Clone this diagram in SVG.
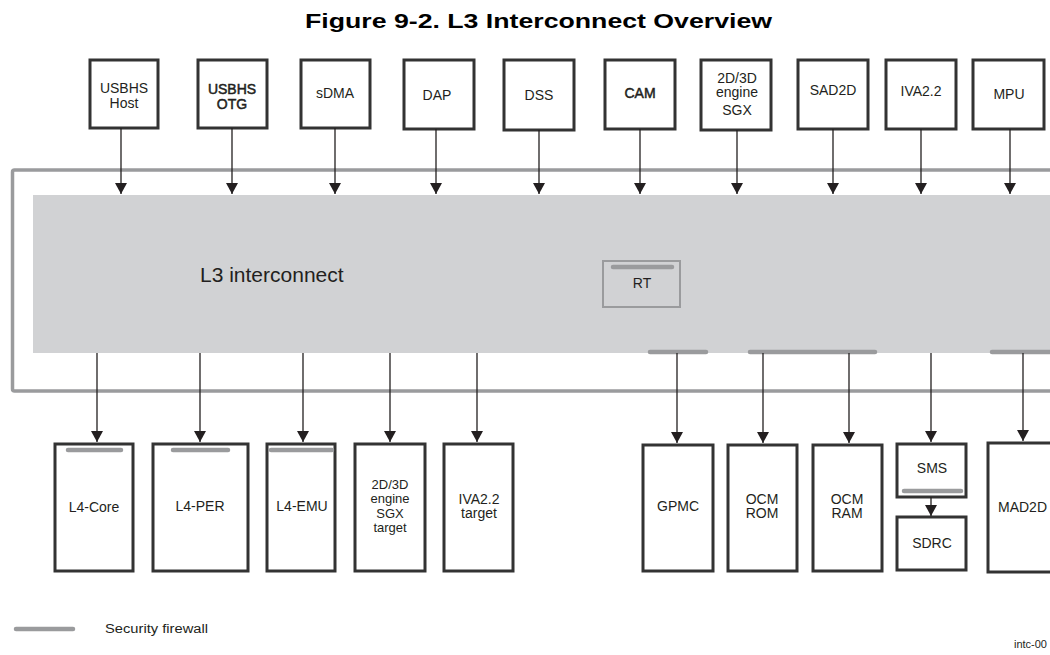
<svg xmlns="http://www.w3.org/2000/svg" width="1050" height="655" viewBox="0 0 1050 655">
<defs>
<marker id="ah" markerUnits="userSpaceOnUse" markerWidth="12" markerHeight="12" refX="11" refY="6" orient="auto">
<path d="M0,0 L11,6 L0,12 z" fill="#231f20"/>
</marker>
<style>
.box{fill:#fff;stroke:#333;stroke-width:3}
.t{font-family:"Liberation Sans",Arial,sans-serif;font-size:14px;fill:#231f20;text-anchor:middle}
.sm{font-size:13px}
.sb{stroke:#231f20;stroke-width:0.5}
.c{stroke:#231f20;stroke-width:1.3;fill:none;marker-end:url(#ah)}
.fw{stroke:#9a9b9d;stroke-width:4.5;stroke-linecap:round;fill:none}
</style>
</defs>
<rect width="1050" height="655" fill="#fff"/>
<text x="305" y="28" font-family="Liberation Sans,Arial,sans-serif" font-size="21" font-weight="bold" fill="#000" textLength="467" lengthAdjust="spacingAndGlyphs">Figure 9-2. L3 Interconnect Overview</text>

<g id="frame">
<rect x="12.5" y="170" width="1060" height="221" rx="2" fill="none" stroke="#9a9b9d" stroke-width="3.5"/>
</g>
<g id="l3">
<rect x="33" y="195" width="1030" height="158" fill="#d1d2d4"/>
<text x="200" y="282" font-family="Liberation Sans,Arial,sans-serif" font-size="21" fill="#231f20">L3 interconnect</text>
</g>
<g id="rt">
<rect x="603" y="261" width="77" height="46" fill="#d1d2d4" stroke="#9a9b9d" stroke-width="2"/>
<line class="fw" x1="613" y1="267" x2="672" y2="267"/>
<text class="t" x="642" y="288">RT</text>
</g>
<g id="l3-firewalls">
<line class="fw" x1="650" y1="352" x2="706" y2="352"/>
<line class="fw" x1="750" y1="352" x2="875" y2="352"/>
<line class="fw" x1="992" y1="352" x2="1060" y2="352"/>
</g>

<g id="usbhs-host"><rect class="box" x="90" y="60" width="68" height="68"/><text class="t" x="124" y="93">USBHS</text><text class="t" x="124" y="108">Host</text></g>
<g id="usbhs-otg"><rect class="box" x="198" y="60" width="69" height="68"/><text class="t sb" x="232" y="94">USBHS</text><text class="t sb" x="232" y="109">OTG</text></g>
<g id="sdma"><rect class="box" x="301" y="60" width="69" height="68"/><text class="t" x="335" y="98">sDMA</text></g>
<g id="dap"><rect class="box" x="404" y="60" width="70" height="69"/><text class="t" x="437" y="100">DAP</text></g>
<g id="dss"><rect class="box" x="504" y="60" width="70" height="70"/><text class="t" x="539" y="100">DSS</text></g>
<g id="cam"><rect class="box" x="605" y="60" width="70" height="69"/><text class="t sb" x="640" y="98">CAM</text></g>
<g id="sgx"><rect class="box" x="701" y="60" width="70" height="70"/><text class="t" x="737" y="83">2D/3D</text><text class="t" x="737" y="97">engine</text><text class="t" x="737" y="115">SGX</text></g>
<g id="sad2d"><rect class="box" x="798" y="60" width="70" height="69"/><text class="t" x="833" y="95">SAD2D</text></g>
<g id="iva22"><rect class="box" x="886" y="60" width="70" height="69"/><text class="t" x="921" y="96">IVA2.2</text></g>
<g id="mpu"><rect class="box" x="973" y="60" width="71" height="69"/><text class="t" x="1009" y="99">MPU</text></g>

<g id="l4-core"><rect class="box" x="55" y="444" width="78" height="127"/><line class="fw" x1="68" y1="450" x2="121" y2="450"/><text class="t" x="94" y="512">L4-Core</text></g>
<g id="l4-per"><rect class="box" x="153" y="444" width="95" height="127"/><line class="fw" x1="173" y1="450" x2="228" y2="450"/><text class="t" x="200" y="511">L4-PER</text></g>
<g id="l4-emu"><rect class="box" x="267" y="444" width="68" height="127"/><line class="fw" x1="271" y1="450" x2="332" y2="450"/><text class="t" x="302" y="511">L4-EMU</text></g>
<g id="sgx-target"><rect class="box" x="355" y="444" width="70" height="127"/><text class="t sm" x="390" y="489">2D/3D</text><text class="t sm" x="390" y="503">engine</text><text class="t sm" x="390" y="518">SGX</text><text class="t sm" x="390" y="532">target</text></g>
<g id="iva22-target"><rect class="box" x="444" y="444" width="69" height="127"/><text class="t" x="479" y="504">IVA2.2</text><text class="t" x="479" y="518">target</text></g>
<g id="gpmc"><rect class="box" x="643" y="445" width="70" height="126"/><text class="t" x="678" y="511">GPMC</text></g>
<g id="ocm-rom"><rect class="box" x="728" y="445" width="69" height="126"/><text class="t" x="762" y="504">OCM</text><text class="t" x="762" y="518">ROM</text></g>
<g id="ocm-ram"><rect class="box" x="813" y="445" width="69" height="126"/><text class="t" x="847" y="504">OCM</text><text class="t" x="847" y="518">RAM</text></g>
<g id="sms"><rect class="box" x="897" y="444" width="69" height="53"/><line class="fw" x1="904" y1="491" x2="961" y2="491"/><text class="t" x="932" y="473">SMS</text></g>
<g id="sdrc"><rect class="box" x="897" y="517" width="69" height="53"/><text class="t" x="932" y="548">SDRC</text></g>
<g id="mad2d"><rect class="box" x="988" y="443" width="80" height="129" stroke-width="4"/><text x="998" y="512" font-family="Liberation Sans,Arial,sans-serif" font-size="14" fill="#231f20">MAD2D</text></g>

<g id="connectors">
<line class="c" x1="121" y1="128" x2="121" y2="194"/>
<line class="c" x1="232" y1="128" x2="232" y2="194"/>
<line class="c" x1="335" y1="128" x2="335" y2="194"/>
<line class="c" x1="436" y1="129" x2="436" y2="194"/>
<line class="c" x1="539" y1="130" x2="539" y2="194"/>
<line class="c" x1="640" y1="129" x2="640" y2="194"/>
<line class="c" x1="737" y1="130" x2="737" y2="194"/>
<line class="c" x1="833" y1="129" x2="833" y2="194"/>
<line class="c" x1="921" y1="129" x2="921" y2="194"/>
<line class="c" x1="1010" y1="129" x2="1010" y2="194"/>
<line class="c" x1="97" y1="353" x2="97" y2="442"/>
<line class="c" x1="200" y1="353" x2="200" y2="442"/>
<line class="c" x1="303" y1="353" x2="303" y2="442"/>
<line class="c" x1="390" y1="353" x2="390" y2="442"/>
<line class="c" x1="477" y1="353" x2="477" y2="442"/>
<line class="c" x1="677" y1="353" x2="677" y2="443"/>
<line class="c" x1="763" y1="353" x2="763" y2="443"/>
<line class="c" x1="849" y1="353" x2="849" y2="443"/>
<line class="c" x1="931" y1="353" x2="931" y2="442"/>
<line class="c" x1="1023" y1="353" x2="1023" y2="441"/>
<line class="c" x1="931" y1="497" x2="931" y2="516"/>
</g>

<g id="legend">
<line class="fw" x1="16" y1="629" x2="73" y2="629"/>
<text x="105" y="633" font-family="Liberation Sans,Arial,sans-serif" font-size="12.5" fill="#231f20" textLength="103" lengthAdjust="spacingAndGlyphs">Security firewall</text>
<text x="1047" y="648" font-family="Liberation Sans,Arial,sans-serif" font-size="11" fill="#231f20" text-anchor="end">intc-00</text>
</g>
</svg>
